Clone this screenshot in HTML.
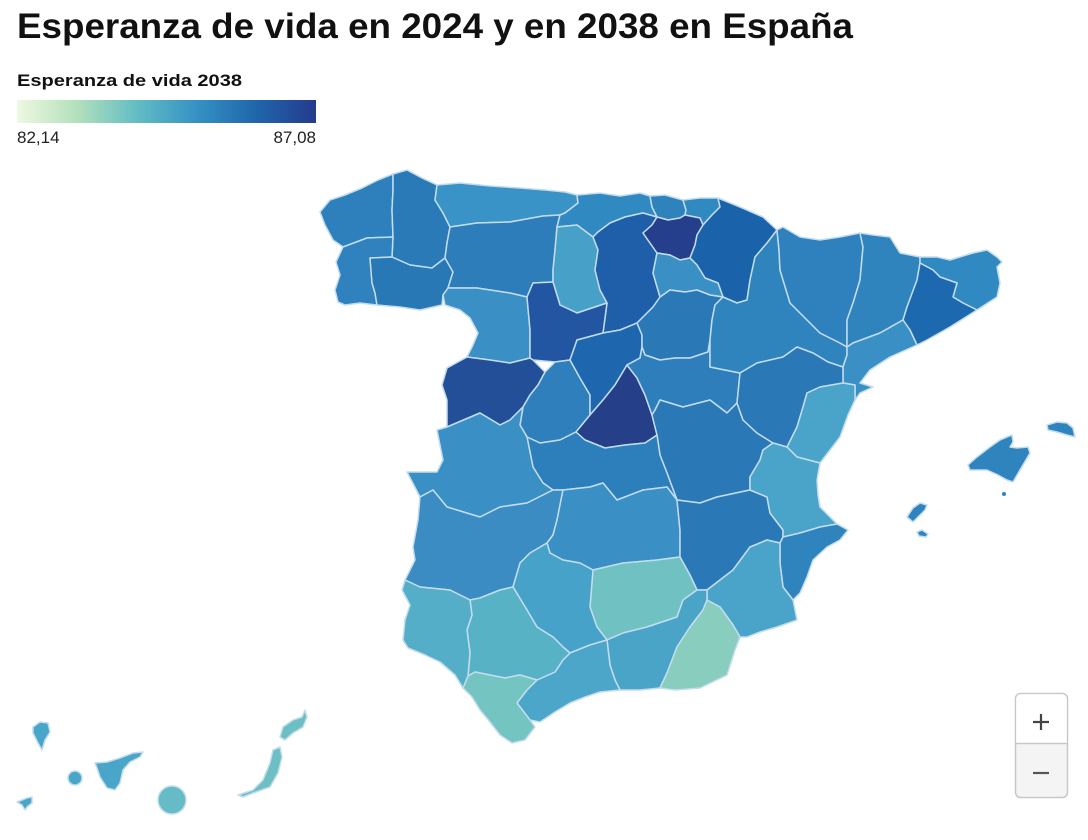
<!DOCTYPE html>
<html><head><meta charset="utf-8"><style>
html,body{margin:0;padding:0;background:#fff;width:1088px;height:840px;overflow:hidden}
svg{display:block}
</style></head><body>
<svg width="1088" height="840" viewBox="0 0 1088 840" xmlns="http://www.w3.org/2000/svg">
<defs>
<linearGradient id="lg" x1="0" y1="0" x2="1" y2="0">
<stop offset="0" stop-color="#eef8e2"/>
<stop offset="0.2" stop-color="#b3e0bc"/>
<stop offset="0.4" stop-color="#63bdc3"/>
<stop offset="0.6" stop-color="#3592c4"/>
<stop offset="0.8" stop-color="#1f66ab"/>
<stop offset="1" stop-color="#243b8c"/>
</linearGradient>
</defs>
<text x="17" y="38" font-family="Liberation Sans, Arial, sans-serif" font-weight="bold" font-size="35" fill="#111" textLength="836" lengthAdjust="spacingAndGlyphs">Esperanza de vida en 2024 y en 2038 en España</text>
<text x="17" y="86" font-family="Liberation Sans, Arial, sans-serif" font-weight="bold" font-size="17" fill="#111" textLength="225" lengthAdjust="spacingAndGlyphs">Esperanza de vida 2038</text>
<rect x="17" y="100" width="299" height="23" fill="url(#lg)"/>
<text x="17" y="143" font-family="Liberation Sans, Arial, sans-serif" font-size="17" fill="#222">82,14</text>
<text x="316" y="143" text-anchor="end" font-family="Liberation Sans, Arial, sans-serif" font-size="17" fill="#222">87,08</text>

<g stroke="#c3dcef" stroke-width="1.5" stroke-linejoin="round">
<!-- Galicia -->
<polygon fill="#2e80bc" points="320,212 330,200 345,195 362,188 378,180 393,174 393,190 392,210 393,237 367,238 343,247 333,240 325,225"/>
<polygon fill="#2a7ab8" points="393,174 407,170 422,178 437,185 435,200 443,213 450,227 447,243 445,258 432,268 410,265 392,257 393,237 392,210 393,190"/>
<polygon fill="#2f82bd" points="343,247 367,238 393,237 392,257 370,258 372,283 375,293 377,305 360,303 345,305 338,302 335,290 340,275 336,262"/>
<polygon fill="#2878b6" points="370,258 392,257 410,265 432,268 445,258 453,272 448,288 443,295 442,305 420,310 400,307 377,305 375,293 372,283"/>
<!-- North -->
<polygon fill="#3a93c6" points="437,185 460,183 490,186 520,188 545,190 565,192 577,195 578,203 565,213 560,215 543,216 510,222 477,223 450,227 443,213 435,200"/>
<polygon fill="#2d7dba" points="450,227 477,223 510,222 543,216 560,215 557,227 555,250 553,270 553,282 533,283 527,297 510,293 477,288 448,288 453,272 445,258 447,243"/>
<polygon fill="#3189c1" points="577,195 600,193 620,196 640,193 650,196 652,207 657,217 643,213 625,217 610,223 598,232 593,237 577,225 557,227 560,215 565,213 578,203"/>
<polygon fill="#47a0c8" points="557,227 577,225 593,237 598,250 595,270 600,290 607,303 577,313 560,305 553,282 553,270 555,250"/>
<polygon fill="#1f5ea8" points="593,237 598,232 610,223 625,217 643,213 657,217 652,225 643,233 650,243 657,253 653,273 660,297 653,307 637,323 620,330 603,333 607,303 600,290 595,270 598,250"/>
<polygon fill="#2f83bd" points="650,196 665,195 683,200 686,210 685,215 680,218 668,220 657,217 652,207"/>
<polygon fill="#3189c1" points="683,200 700,198 718,198 720,207 712,215 703,225 700,218 685,215 686,210"/>
<polygon fill="#253f8c" points="657,217 668,220 680,218 685,215 700,218 703,225 697,235 695,245 690,258 680,260 670,255 657,253 650,243 643,233 652,225"/>
<polygon fill="#1a63ab" points="718,198 740,207 763,217 777,230 767,243 755,257 750,280 747,300 737,303 723,297 718,283 705,278 697,265 690,258 695,245 697,235 703,225 712,215 720,207"/>
<polygon fill="#3a90c4" points="657,253 670,255 680,260 690,258 697,265 705,278 718,283 723,297 710,295 697,290 685,292 670,290 660,297 653,273"/>
<!-- Castilla y León -->
<polygon fill="#3a8fc4" points="448,288 477,288 510,293 527,297 530,330 530,358 510,363 490,360 467,357 473,345 478,333 470,318 460,310 445,305 443,295"/>
<polygon fill="#2356a2" points="533,283 553,282 560,305 577,313 607,303 603,333 577,340 570,360 555,362 533,360 530,358 530,330 527,297"/>
<polygon fill="#234e98" points="447,368 467,357 490,360 510,363 530,358 533,360 545,372 538,385 530,395 523,407 510,420 500,425 480,413 447,427 447,400 442,385"/>
<polygon fill="#2e7fbb" points="530,395 538,385 545,372 555,362 570,360 580,378 590,395 590,415 576,432 560,440 540,443 527,437 520,425 523,407"/>
<polygon fill="#1e67ae" points="570,360 577,340 603,333 620,330 637,323 642,335 642,347 640,358 627,365 615,385 603,400 590,415 590,395 580,378"/>
<polygon fill="#2a79b6" points="660,297 670,290 685,292 697,290 710,295 723,297 715,305 712,320 710,340 708,352 690,358 675,358 660,360 645,355 642,347 642,335 637,323 653,307"/>
<!-- Centre -->
<polygon fill="#253f88" points="627,365 637,378 645,395 652,415 657,435 645,443 625,445 605,448 585,440 576,432 590,415 603,400 615,385"/>
<polygon fill="#2d7ebb" points="642,347 645,355 660,360 675,358 690,358 708,352 710,340 710,367 725,370 740,373 737,403 727,413 710,400 683,407 660,400 655,410 652,415 645,395 637,378 627,365 640,358"/>
<polygon fill="#2a78b5" points="652,415 655,410 660,400 683,407 710,400 727,413 737,403 743,420 757,433 773,443 763,450 760,460 750,477 750,490 717,497 700,503 677,500 667,473 660,455 657,435"/>
<polygon fill="#2d7fbb" points="527,437 540,443 560,440 576,432 585,440 605,448 625,445 645,443 657,435 660,455 667,473 677,500 667,487 643,490 617,500 603,483 590,487 563,490 553,490 543,483 533,467"/>
<polygon fill="#3a8fc4" points="447,427 480,413 500,425 510,420 523,407 520,425 527,437 533,467 543,483 553,490 527,503 500,507 480,517 447,507 433,490 420,497 407,472 437,472 443,460 437,430"/>
<polygon fill="#3a8cc2" points="420,497 433,490 447,507 480,517 500,507 527,503 553,490 563,490 560,505 557,520 553,535 547,543 530,553 520,563 513,587 500,590 480,598 470,600 450,590 420,587 405,580 415,560 413,547 418,520"/>
<polygon fill="#3a90c4" points="563,490 590,487 603,483 617,500 643,490 667,487 677,500 680,530 680,557 657,560 623,563 593,570 580,563 563,560 550,553 547,543 553,535 557,520 560,505"/>
<polygon fill="#2a78b5" points="677,500 700,503 717,497 750,490 767,497 770,513 783,530 783,537 780,543 767,540 750,547 733,570 707,590 697,590 690,575 680,557 680,530"/>
<!-- Aragón / Catalonia -->
<polygon fill="#2f84be" points="723,297 737,303 747,300 750,280 755,257 767,243 777,230 779,250 780,270 790,303 805,318 820,333 840,343 847,347 847,355 843,367 828,362 813,353 797,347 783,357 757,363 740,373 725,370 710,367 710,340 712,320 715,305"/>
<polygon fill="#2e81bc" points="777,230 783,227 800,237 820,240 840,237 860,233 863,247 860,280 853,303 847,320 847,330 847,347 840,343 820,333 805,318 790,303 780,270 779,250"/>
<polygon fill="#2f84be" points="860,233 873,235 890,237 900,253 920,257 920,263 917,280 907,307 903,320 880,333 853,343 847,347 847,330 847,320 853,303 860,280 863,247"/>
<polygon fill="#3189c1" points="920,263 920,257 937,257 950,260 973,253 987,250 997,257 1002,262 997,267 1000,283 997,297 977,310 963,303 953,297 957,283 940,277 933,270"/>
<polygon fill="#1d69af" points="920,263 933,270 940,277 957,283 953,297 963,303 977,310 950,327 927,340 917,345 910,330 903,320 907,307 917,280"/>
<polygon fill="#3a90c4" points="847,347 853,343 880,333 903,320 910,330 917,345 890,357 870,370 860,383 873,387 860,393 855,400 855,385 843,383 843,367 847,355"/>
<polygon fill="#2a78b5" points="740,373 757,363 783,357 797,347 813,353 828,362 843,367 843,383 820,387 807,393 803,407 797,427 787,447 773,443 757,433 743,420 737,403"/>
<!-- Levante -->
<polygon fill="#4aa3c9" points="843,383 855,385 855,400 848,415 840,437 830,450 820,463 797,457 787,447 797,427 803,407 807,393 820,387"/>
<polygon fill="#4aa3c9" points="773,443 787,447 797,457 820,463 817,480 818,495 820,507 833,520 837,524 820,527 800,533 783,537 783,530 770,513 767,497 750,490 750,477 760,460 763,450"/>
<polygon fill="#2f84be" points="783,537 800,533 820,527 837,524 848,530 840,540 827,547 813,560 807,577 800,593 793,600 783,587 780,563 780,543"/>
<polygon fill="#4aa3c9" points="707,600 707,590 733,570 750,547 767,540 780,543 780,563 783,587 793,600 797,620 777,627 760,632 747,637 740,637 733,625 720,607"/>
<!-- Andalucía -->
<polygon fill="#70c1c1" points="593,570 623,563 657,560 680,557 690,575 697,590 683,600 677,617 647,627 623,633 607,640 597,627 590,607"/>
<polygon fill="#47a2c9" points="547,543 550,553 563,560 580,563 593,570 590,607 597,627 607,640 590,645 570,653 563,647 553,637 537,627 527,610 513,587 520,563 530,553"/>
<polygon fill="#4aa4c8" points="607,640 623,633 647,627 677,617 683,600 697,590 707,590 707,600 703,610 690,627 677,647 667,673 660,688 640,690 620,690 615,680 610,665"/>
<polygon fill="#88cdbd" points="707,600 720,607 733,625 740,637 735,650 727,675 700,688 675,690 660,688 667,673 677,647 690,627 703,610"/>
<polygon fill="#4ba6c9" points="570,653 590,645 607,640 610,665 615,680 620,690 600,692 585,697 570,703 555,712 540,722 530,720 517,703 527,690 537,680 555,672 563,660"/>
<polygon fill="#58b2c6" points="470,600 480,598 500,590 513,587 527,610 537,627 553,637 563,647 570,653 563,660 555,672 537,680 520,675 505,678 490,675 475,672 468,676 470,653 467,630 472,615"/>
<polygon fill="#74c4c2" points="468,676 475,672 490,675 505,678 520,675 537,680 527,690 517,703 530,720 535,727 525,740 512,743 500,735 490,722 480,710 472,697 463,688"/>
<polygon fill="#55aec8" points="405,580 420,587 450,590 470,600 472,615 467,630 470,653 468,676 463,688 455,675 440,662 425,655 408,648 403,640 405,620 410,605 402,590"/>
<!-- Baleares -->
<polygon fill="#2f84be" points="968,465 977,457 990,447 1000,440 1007,437 1012,435 1013,442 1010,447 1017,448 1028,447 1030,453 1020,470 1013,482 1007,480 998,475 987,470 977,470 970,470"/>
<polygon fill="#2f84be" points="1047,425 1057,422 1067,423 1073,428 1075,437 1067,435 1057,432 1048,430"/>
<polygon fill="#2f84be" points="907,517 913,508 920,503 927,505 925,510 918,517 913,522"/>
<polygon fill="#2f84be" points="917,532 922,530 928,534 926,537 919,536"/>
<circle cx="1004" cy="494" r="2" fill="#2f84be" stroke="none"/>
<!-- Canarias -->
<polygon fill="#48a6c8" points="33,727 40,722 48,723 50,732 45,740 42,750 38,743 33,733"/>
<polygon fill="#4aa6c8" points="17,802 27,798 32,797 32,803 27,807 25,810 22,805"/>
<circle cx="75" cy="778" r="7" fill="#4aa6c8"/>
<polygon fill="#4aa6c8" points="95,763 107,762 120,758 133,753 143,752 140,757 130,762 123,770 120,783 115,790 107,788 100,777 97,768"/>
<ellipse cx="172" cy="800" rx="14" ry="14" fill="#66bcc6"/>
<polygon fill="#6cbfc3" points="238,795 253,790 263,780 270,763 273,750 280,747 282,757 278,773 270,787 253,793 243,797"/>
<polygon fill="#6cbfc3" points="280,737 283,727 293,720 302,717 305,710 307,717 303,727 293,733 285,740"/>
</g>

<!-- zoom controls -->
<rect x="1015.5" y="693.5" width="52" height="104" rx="5" ry="5" fill="#f4f4f4" stroke="#c8c8c8" stroke-width="1.5"/>
<path d="M1016.25,743 L1016.25,699 Q1016.25,694.25 1021,694.25 L1062,694.25 Q1066.75,694.25 1066.75,699 L1066.75,743 Z" fill="#fff"/>
<line x1="1016" y1="743.5" x2="1067" y2="743.5" stroke="#c8c8c8" stroke-width="1.5"/>
<line x1="1033" y1="722" x2="1049" y2="722" stroke="#444" stroke-width="2.2"/>
<line x1="1041" y1="714" x2="1041" y2="730" stroke="#444" stroke-width="2.2"/>
<line x1="1033" y1="773" x2="1049" y2="773" stroke="#555" stroke-width="2.2"/>
</svg>
</body></html>
